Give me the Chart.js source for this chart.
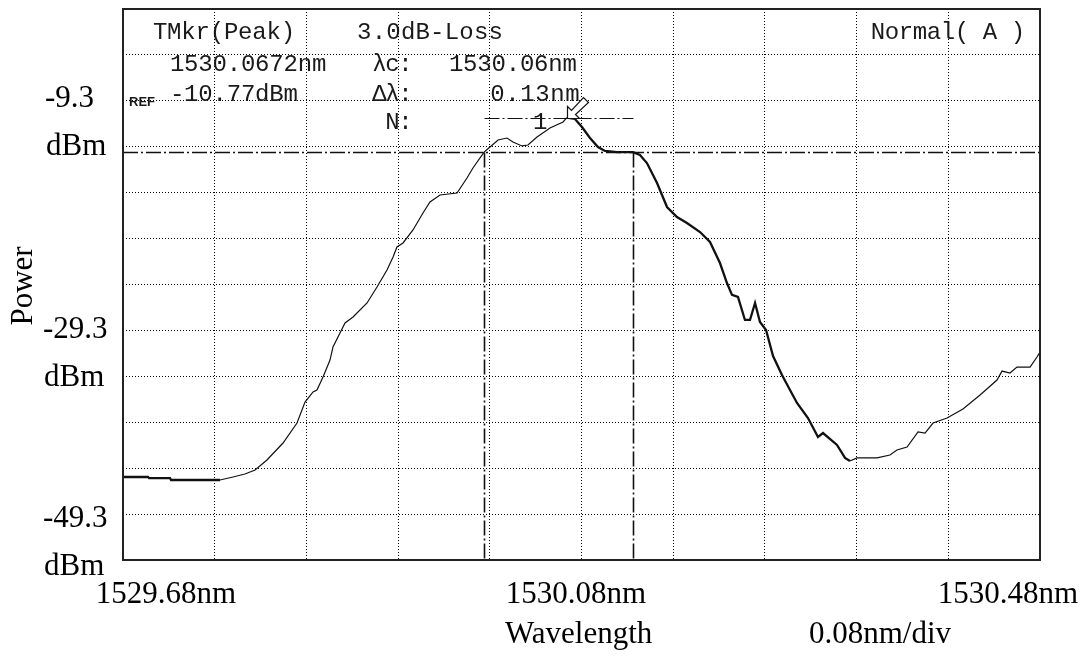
<!DOCTYPE html>
<html>
<head>
<meta charset="utf-8">
<title>OSA trace</title>
<script src="https://cdn.jsdelivr.net/npm/chart.js@4/dist/chart.umd.min.js"></script>
<style>
  html, body { margin: 0; padding: 0; background: #fff; }
  #wrap { width: 1088px; height: 660px; }
</style>
</head>
<body>
<div id="wrap"><canvas id="osa" width="1088" height="660"></canvas></div>
<script>
// Measured spectrum (wavelength in nm, power in dBm)
const wavelengthNm = [
  1529.6800, 1529.7018, 1529.7027, 1529.7210, 1529.7219, 1529.7646, 1529.7760, 1529.7864, 1529.7952, 1529.8056,
  1529.8196, 1529.8318, 1529.8388, 1529.8458, 1529.8492, 1529.8545, 1529.8606, 1529.8632, 1529.8693, 1529.8737,
  1529.8807, 1529.8929, 1529.9016, 1529.9103, 1529.9156, 1529.9190, 1529.9243, 1529.9330, 1529.9417, 1529.9478,
  1529.9566, 1529.9714, 1529.9801, 1529.9853, 1529.9950, 1530.0002, 1530.0072, 1530.0150, 1530.0202, 1530.0281,
  1530.0333, 1530.0412, 1530.0525, 1530.0639, 1530.0672, 1530.0743, 1530.0804, 1530.0874, 1530.0944, 1530.1005,
  1530.1110, 1530.1250, 1530.1310, 1530.1371, 1530.1459, 1530.1546, 1530.1633, 1530.1720, 1530.1834, 1530.1921,
  1530.2008, 1530.2069, 1530.2113, 1530.2165, 1530.2226, 1530.2270, 1530.2314, 1530.2357, 1530.2410, 1530.2471,
  1530.2549, 1530.2619, 1530.2680, 1530.2776, 1530.2863, 1530.2907, 1530.3029, 1530.3099, 1530.3142, 1530.3203,
  1530.3378, 1530.3491, 1530.3552, 1530.3640, 1530.3736, 1530.3797, 1530.3867, 1530.3989, 1530.4128, 1530.4277,
  1530.4425, 1530.4469, 1530.4538, 1530.4599, 1530.4713, 1530.4774, 1530.4800
];
const powerDbm = [
  -42.07, -42.07, -42.16, -42.16, -42.33, -42.33, -42.07, -41.81, -41.46, -40.59,
  -39.11, -37.37, -35.54, -34.66, -34.49, -33.36, -31.88, -30.74, -29.52, -28.65,
  -28.13, -26.91, -25.52, -24.04, -22.90, -22.03, -21.68, -20.55, -19.07, -18.11,
  -17.50, -17.33, -16.02, -15.15, -13.77, -13.32, -12.71, -12.54, -12.89, -13.23,
  -13.15, -12.45, -11.67, -11.14, -10.77, -10.88, -11.58, -12.54, -13.32, -13.67,
  -13.77, -13.77, -14.02, -14.72, -16.46, -18.55, -19.42, -19.94, -20.73, -21.60,
  -23.43, -25.17, -26.21, -26.39, -28.39, -28.39, -26.91, -28.57, -29.26, -31.53,
  -33.18, -34.49, -35.62, -36.93, -38.58, -38.24, -39.28, -40.41, -40.68, -40.41,
  -40.41, -40.15, -39.72, -39.46, -38.15, -38.24, -37.37, -36.93, -36.15, -34.93,
  -33.62, -32.84, -33.01, -32.49, -32.49, -31.62, -31.18
];

// Screen divisions: 0.08 nm/div horizontally, 4 dB/div vertically
const xGridNm = [1529.68, 1529.76, 1529.84, 1529.92, 1530.00, 1530.08, 1530.16, 1530.24, 1530.32, 1530.40, 1530.48];
const yGridDbm = [-49.3, -45.3, -41.3, -37.3, -33.3, -29.3, -25.3, -21.3, -17.3, -13.3, -9.3, -5.3, -1.3];

// Axis annotations
const xTickLabels = ['1529.68nm', '1530.08nm', '1530.48nm'];
const yTickLabels = ['-9.3', '-29.3', '-49.3'];
const yUnit = 'dBm';
const xTitle = 'Wavelength';
const yTitle = 'Power';
const spanText = '0.08nm/div';

// Marker / analysis readout
const refLevelDbm = -9.3;
const peakWavelength = 1530.0672;
const peakPower = -10.77;
const lossDb = 3.0;
const centerWavelength = 1530.06;
const bandwidthNm = 0.13;
const modeNumber = 1;
const traceMode = 'Normal( A )';

const edgeLow = centerWavelength - bandwidthNm / 2;
const edgeHigh = centerWavelength + bandwidthNm / 2;
const lossLevel = peakPower - lossDb;

// deepest point on the long-wavelength side of the peak
let dipIndex = wavelengthNm.findIndex(w => w > peakWavelength);
for (let i = dipIndex; i < powerDbm.length; i++) {
  if (powerDbm[i] < powerDbm[dipIndex]) dipIndex = i;
}
const dipWavelength = wavelengthNm[dipIndex];

const INK = '#111';

function monoText(ctx, str, left, baseline, pitch) {
  ctx.textAlign = 'center';
  ctx.textBaseline = 'alphabetic';
  [...str].forEach((ch, i) => ctx.fillText(ch, left + pitch * (i + 0.5), baseline));
}

function dashLine(ctx, x1, y1, x2, y2, w) {
  ctx.save();
  ctx.strokeStyle = INK;
  ctx.lineWidth = w;
  ctx.setLineDash([15, 3, 2, 3]);
  ctx.beginPath();
  ctx.moveTo(x1, y1);
  ctx.lineTo(x2, y2);
  ctx.stroke();
  ctx.restore();
}

const osaOverlay = {
  id: 'osaOverlay',
  beforeDatasetsDraw(chart) {
    const { ctx, chartArea: a, scales: { x, y } } = chart;
    const yl = Math.round(y.getPixelForValue(lossLevel)) + 0.5;
    const xl = Math.round(x.getPixelForValue(edgeLow)) + 0.5;
    const xh = Math.round(x.getPixelForValue(edgeHigh)) + 0.5;
    // -3 dB level and bandwidth edges
    dashLine(ctx, a.left, yl, a.right, yl, 1.6);
    dashLine(ctx, xl, yl, xl, a.bottom, 1.6);
    dashLine(ctx, xh, yl, xh, a.bottom, 1.6);
    // mode line at peak level
    const yp = Math.round(y.getPixelForValue(peakPower)) + 0.5;
    dashLine(ctx, xl, yp, xh, yp, 1.2);
  },
  afterDraw(chart) {
    const { ctx, chartArea: a, scales: { x, y } } = chart;
    ctx.save();

    // frame
    ctx.strokeStyle = '#222';
    ctx.lineWidth = 2;
    ctx.setLineDash([]);
    ctx.strokeRect(a.left, a.top, a.right - a.left, a.bottom - a.top);

    // peak marker arrow
    const px = Math.round(x.getPixelForValue(peakWavelength)) + 0.5;
    const py = Math.round(y.getPixelForValue(peakPower)) + 0.5;
    ctx.lineWidth = 1.2;
    ctx.strokeStyle = INK;
    ctx.fillStyle = '#fff';
    ctx.beginPath();
    ctx.moveTo(px, py);
    ctx.lineTo(px, py - 12);
    ctx.lineTo(px + 4, py - 8);
    ctx.lineTo(px + 16, py - 21);
    ctx.lineTo(px + 21, py - 16);
    ctx.lineTo(px + 8, py - 4);
    ctx.lineTo(px + 12, py);
    ctx.closePath();
    ctx.fill();
    ctx.stroke();

    // instrument readout
    ctx.fillStyle = '#1a1a1a';
    ctx.font = '24px "Liberation Mono", "DejaVu Sans Mono", monospace';
    const P = 14.2;
    monoText(ctx, 'TMkr(Peak)', 153, 39, P);
    monoText(ctx, peakWavelength.toFixed(4) + 'nm', 170, 71, P);
    monoText(ctx, peakPower.toFixed(2) + 'dBm', 170, 101, P);
    monoText(ctx, lossDb.toFixed(1) + 'dB-Loss', 357, 39, 14.6);
    monoText(ctx, '\u03bbc:', 373, 71, 13);
    monoText(ctx, centerWavelength.toFixed(2) + 'nm', 449, 71, P);
    monoText(ctx, '\u0394\u03bb:', 373, 101, 13);
    monoText(ctx, bandwidthNm.toFixed(2) + 'nm', 490, 101, 15);
    monoText(ctx, 'N:', 386, 129, 13);
    monoText(ctx, String(modeNumber), 533, 129, P);
    monoText(ctx, traceMode, 871, 39, 14);

    // reference level tag
    const yr = y.getPixelForValue(refLevelDbm);
    ctx.font = 'bold 13px "Liberation Sans", Arial, sans-serif';
    ctx.textAlign = 'left';
    ctx.textBaseline = 'alphabetic';
    ctx.fillText('REF', 129, yr + 5);

    // axis annotations
    ctx.fillStyle = '#000';
    ctx.font = '31px "Liberation Serif", "Times New Roman", serif';
    ctx.textAlign = 'left';
    const yLabelPos = [[45, 107], [43, 338], [43, 527]];
    yTickLabels.forEach((t, i) => {
      ctx.fillText(t, yLabelPos[i][0], yLabelPos[i][1]);
      ctx.fillText(yUnit, yLabelPos[i][0] + 1, yLabelPos[i][1] + 48);
    });
    ctx.textAlign = 'center';
    const xLabelPos = [166, 576, 1008];
    xTickLabels.forEach((t, i) => ctx.fillText(t, xLabelPos[i], 603));
    ctx.textAlign = 'left';
    ctx.fillText(xTitle, 505, 643);
    ctx.fillText(spanText, 809, 643);

    ctx.translate(32, 286);
    ctx.rotate(-Math.PI / 2);
    ctx.textAlign = 'center';
    ctx.fillText(yTitle, 0, 0);
    ctx.restore();
  }
};

const gridStyle = { color: '#000', lineWidth: 1, drawTicks: false };
const borderStyle = { display: false, dash: [1, 2] };

new Chart(document.getElementById('osa'), {
  type: 'line',
  data: {
    datasets: [{
      data: wavelengthNm.map((w, i) => ({ x: w, y: powerDbm[i] })),
      borderColor: INK,
      borderWidth: 1.2,
      pointRadius: 0,
      tension: 0,
      segment: {
        borderWidth: c => {
          const x0 = c.p0.parsed.x;
          return (x0 >= peakWavelength && x0 < dipWavelength) || x0 < xGridNm[1] ? 2.3 : 1.2;
        }
      }
    }]
  },
  options: {
    responsive: false,
    animation: false,
    layout: { padding: { left: 123, top: 9, right: 48, bottom: 100 } },
    plugins: { legend: { display: false }, tooltip: { enabled: false } },
    scales: {
      x: {
        type: 'linear',
        min: xGridNm[0],
        max: xGridNm[xGridNm.length - 1],
        afterBuildTicks: s => { s.ticks = xGridNm.map(v => ({ value: v })); },
        ticks: { display: false },
        grid: gridStyle,
        border: borderStyle
      },
      y: {
        type: 'linear',
        min: yGridDbm[0],
        max: yGridDbm[yGridDbm.length - 1],
        afterBuildTicks: s => { s.ticks = yGridDbm.map(v => ({ value: v })); },
        ticks: { display: false },
        grid: gridStyle,
        border: borderStyle
      }
    }
  },
  plugins: [osaOverlay]
});
</script>
</body>
</html>
